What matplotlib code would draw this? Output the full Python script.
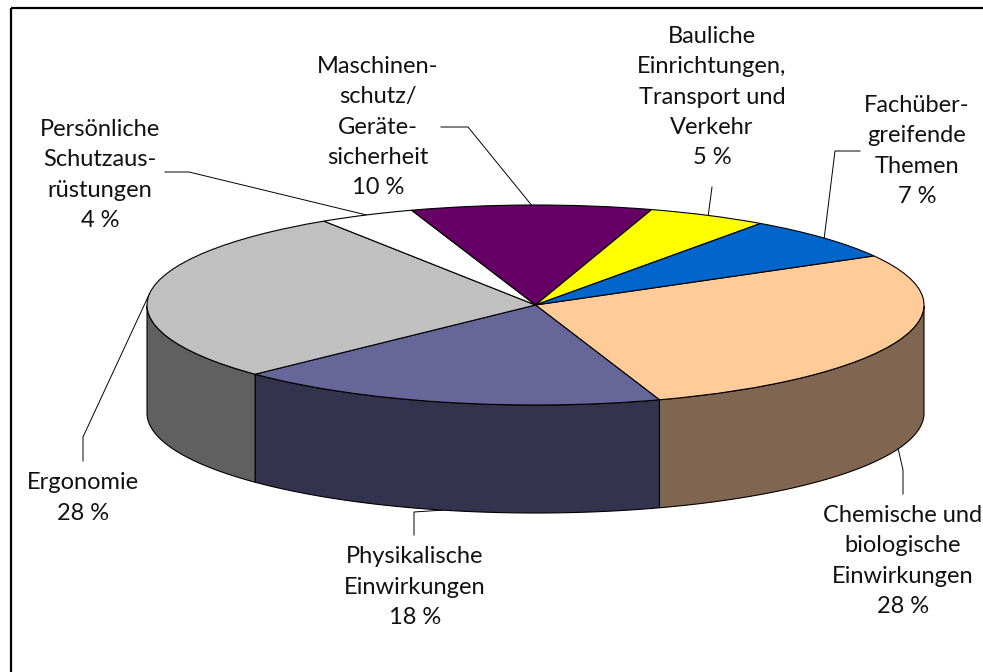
import numpy as np
import matplotlib
matplotlib.use("Agg")
import matplotlib.pyplot as plt
from matplotlib.patches import Rectangle

# values, clockwise from the right hand side of the pie
categories = ["Chemische und\nbiologische\nEinwirkungen", "Physikalische\nEinwirkungen", "Ergonomie",
              "Persönliche\nSchutzaus-\nrüstungen", "Maschinen-\nschutz/\nGeräte-\nsicherheit",
              "Bauliche\nEinrichtungen,\nTransport und\nVerkehr", "Fachüber-\ngreifende\nThemen"]
values = [28, 18, 28, 4, 10, 5, 7]

top_colors = ["#FFCC99", "#666699", "#C0C0C0", "#FFFFFF", "#660066", "#FFFF00", "#0066CC"]
side_colors = ["#806650", "#33334D", "#606060", "#808080", "#330033", "#808000", "#003366"]

W, H = 983, 672
START = 29.4
DEPTH = 1.08  # side height, in units of the small radius

# pixel box of the top ellipse
X0, X1, Y0, Y1 = 147, 924, 205, 405

# label centre in pixels and the leader elbow points
label_pos = [(903, 561), (415, 587), (83, 498), (100, 175), (378, 127), (712, 97), (917, 151)]
leaders = [[(903, 494), (903, 470)], [(414, 535), (414, 512)], [(83, 461), (83, 437)],
           [(165, 172), (189, 172)], [(441, 127), (468, 127)], [(712, 187)], [(860, 151), (835, 151)]]

plt.rcParams["font.family"] = ["Lato", "DejaVu Sans"]

fig = plt.figure(figsize=(W / 100, H / 100), dpi=100)
bg = fig.add_axes([0, 0, 1, 1])
bg.set_xlim(0, W)
bg.set_ylim(H, 0)
bg.axis("off")
bg.add_patch(Rectangle((11, 8), W + 20, H + 20, fill=False, ec="black", lw=1.6))

ax = fig.add_axes([X0 / W, 1 - Y1 / H, (X1 - X0) / W, (Y1 - Y0) / H])
wedges, _ = ax.pie(values, colors=top_colors, startangle=START, counterclock=False, radius=1,
                   wedgeprops=dict(edgecolor="black", linewidth=0.8))
for w in wedges:
    w.set_zorder(5)
ax.set_aspect("auto")
ax.set_xlim(-1, 1)
ax.set_ylim(-1, 1)

# side wall, only the part of each slice on the front of the pie
edges = START - np.cumsum([0] + values) * 3.6
for i in range(len(values)):
    a = np.linspace(edges[i], edges[i + 1], 200)
    a = a[np.sin(np.radians(a)) <= 0]
    if len(a) == 0:
        continue
    x = np.cos(np.radians(a))
    y = np.sin(np.radians(a))
    ax.fill(np.r_[x, x[::-1]], np.r_[y, y[::-1] - DEPTH], color=side_colors[i],
            ec="black", lw=0.8, zorder=2, clip_on=False)

# labels and leaders
for i, name in enumerate(categories):
    mid = np.radians((edges[i] + edges[i + 1]) / 2)
    y = np.sin(mid)
    px = (X0 + X1) / 2 + np.cos(mid) * (X1 - X0) / 2
    py = (Y0 + Y1) / 2 - y * (Y1 - Y0) / 2
    if y < 0:
        py += DEPTH * (Y1 - Y0) / 2
    pts = leaders[i] + [(px, py)]
    bg.plot([p[0] for p in pts], [p[1] for p in pts], color="black", lw=0.7, zorder=10)
    lx, ly = label_pos[i]
    bg.text(lx, ly, f"{name}\n{values[i]} %", ha="center", va="center", fontsize=17,
            linespacing=1.54, color="#111111", clip_on=False)

fig.savefig("out.png", dpi=100)
